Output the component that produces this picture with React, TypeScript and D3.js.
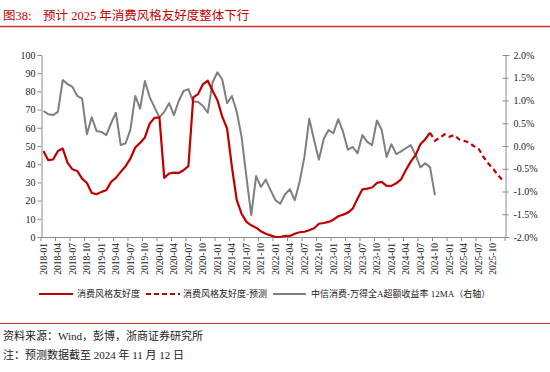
import React, { useRef, useEffect } from "react";
import * as d3 from "d3";

// month categories 2018-01 .. 2025-12
const months: string[] = [];
for (let y = 2018; y <= 2025; y++) {
  for (let m = 1; m <= 12; m++) months.push(`${y}-${String(m).padStart(2, "0")}`);
}

// 消费风格友好度 (left axis), 2018-01 .. 2024-09
const friendly = [
  47.2, 42.2, 42.6, 47.2, 48.6, 40.7, 37.2, 36.3, 32.1, 29.7,
  24.2, 23.5, 24.8, 25.7, 30.3, 32.5, 35.8, 38.9, 43.1, 49.2,
  51.7, 54.7, 62.4, 65.5, 65.7, 32.5, 34.9, 35.4, 35.2, 36.7,
  38.9, 76.7, 78.5, 83.9, 85.9, 80.4, 75.2, 66.1, 59.6, 38.5,
  20.2, 12.8, 8.3, 6.4, 5.1, 3.1, 1.8, 0.9, 0, 0,
  0.7, 0.6, 1.8, 2.6, 2.9, 3.7, 4.8, 7.3, 7.7, 8.3,
  9.5, 11.4, 12.3, 13.4, 15.6, 21.1, 26.2, 26.6, 27.2, 29.7,
  30.3, 28.1, 28.1, 29.5, 31.7, 36.8, 41.4, 45.0, 50.9, 53.7,
  57.3,
];

// 消费风格友好度-预测, 2024-09 .. 2025-12
const forecastStart = 80;
const forecast = [
  57.3, 52.9, 54.6, 56.4, 55.1, 56.0, 53.7, 52.9, 52.0, 50.0,
  48.7, 44.1, 40.5, 37.7, 34.1, 31.3,
];

// 中信消费-万得全A超额收益率 12MA (right axis, %), 2018-01 .. 2024-10
const excess = [
  0.77, 0.70, 0.68, 0.75, 1.45, 1.36, 1.30, 1.10, 1.04, 0.26,
  0.63, 0.33, 0.31, 0.24, 0.50, 0.73, 0.02, 0.06, 0.36, 1.10,
  0.82, 1.43, 1.07, 0.85, 0.63, 0.75, 0.94, 0.68, 0.99, 1.21,
  1.25, 0.97, 0.97, 0.88, 0.73, 1.40, 1.62, 1.46, 0.94, 1.10,
  0.75, 0.20, -0.68, -1.52, -0.66, -0.90, -0.74, -0.97, -1.19, -1.27,
  -1.06, -0.95, -1.19, -0.79, -0.24, 0.60, 0.13, -0.30, 0.16, 0.35,
  0.28, 0.59, 0.31, -0.08, -0.02, -0.16, 0.24, 0.09, 0.02, 0.56,
  0.35, -0.24, 0.04, -0.18, -0.12, -0.05, 0.02, -0.20, -0.47, -0.38,
  -0.47, -1.08,
];

const leftTicks = [0, 10, 20, 30, 40, 50, 60, 70, 80, 90, 100];
const rightTicks = [-2, -1.5, -1, -0.5, 0, 0.5, 1, 1.5, 2];

const RED = "#c00000";
const GRAY = "#7f7f7f";
const AXIS = "#8c8c8c";
const CJK = "'Liberation Serif', 'Noto Sans CJK SC', serif";

export default function App() {
  const width = 550;
  const height = 372;
  const left = 41;
  const right = 505;
  const top = 55;
  const bottom = 237;

  const xAxisRef = useRef<SVGGElement>(null);
  const yLeftRef = useRef<SVGGElement>(null);
  const yRightRef = useRef<SVGGElement>(null);

  const x = d3.scaleBand<string>().domain(months).range([left, right]).padding(0);
  const cx = (i: number) => (x(months[i]) as number) + x.bandwidth() / 2;
  const yL = d3.scaleLinear().domain([0, 100]).range([bottom, top]);
  const yR = d3.scaleLinear().domain([-2, 2]).range([bottom, top]);

  const lineL = d3
    .line<number>()
    .x((_, i) => cx(i))
    .y((d) => yL(d));
  const lineF = d3
    .line<number>()
    .x((_, i) => cx(i + forecastStart))
    .y((d) => yL(d));
  const lineR = d3
    .line<number>()
    .x((_, i) => cx(i))
    .y((d) => yR(d));

  useEffect(() => {
    // x axis: ticks on every quarter boundary, labels on quarter months
    const g = d3.select(xAxisRef.current);
    g.selectAll("*").remove();
    g.append("line")
      .attr("x1", left).attr("x2", right)
      .attr("y1", bottom + 0.5).attr("y2", bottom + 0.5)
      .attr("stroke", AXIS);
    const qIdx = d3.range(0, months.length + 1, 3);
    g.selectAll("line.tk")
      .data(qIdx)
      .join("line")
      .attr("class", "tk")
      .attr("x1", (i) => left + i * x.bandwidth())
      .attr("x2", (i) => left + i * x.bandwidth())
      .attr("y1", bottom)
      .attr("y2", bottom + 4)
      .attr("stroke", AXIS);
    g.selectAll("text")
      .data(qIdx.filter((i) => i < months.length))
      .join("text")
      .attr("transform", (i) => `translate(${cx(i)},${bottom + 6}) rotate(-90)`)
      .attr("text-anchor", "end")
      .attr("dy", "0.35em")
      .attr("font-size", 9.5)
      .attr("font-family", "'Liberation Serif', serif")
      .attr("fill", "#222")
      .text((i) => months[i]);

    const gl = d3.select(yLeftRef.current);
    gl.call(
      d3.axisLeft(yL).tickValues(leftTicks).tickSize(4).tickFormat(d3.format("d")) as any
    );
    gl.select(".domain").attr("stroke", AXIS);
    gl.selectAll(".tick line").attr("stroke", AXIS);
    gl.selectAll(".tick text")
      .attr("font-size", 10)
      .attr("font-family", "'Liberation Serif', serif")
      .attr("fill", "#222")
      .attr("x", -6);

    const gr = d3.select(yRightRef.current);
    gr.call(
      d3.axisRight(yR).tickValues(rightTicks).tickSize(4).tickFormat((d) => `${(+d).toFixed(1)}%`) as any
    );
    gr.select(".domain").attr("stroke", AXIS);
    gr.selectAll(".tick line").attr("stroke", AXIS).attr("x1", -3).attr("x2", 3);
    gr.selectAll(".tick text")
      .attr("font-size", 10)
      .attr("font-family", "'Liberation Serif', serif")
      .attr("fill", "#222")
      .attr("x", 8);
  }, []);

  return (
    <svg
      width={width}
      height={height}
      style={{ position: "absolute", left: 0, top: 0, background: "#fff" }}
    >
      <text x={3} y={20} fontSize={12.5} fill={RED} fontFamily={CJK}>
        图38:
      </text>
      <text x={43} y={20} fontSize={12.5} fill={RED} fontFamily={CJK}>
        预计 2025 年消费风格友好度整体下行
      </text>
      <line x1={0} x2={550} y1={26.5} y2={26.5} stroke="#c9302c" strokeWidth={1.5} />

      <g ref={yLeftRef} transform={`translate(${left + 0.5},0)`} />
      <g ref={yRightRef} transform={`translate(${right + 0.5},0)`} />
      <g ref={xAxisRef} />

      <path d={lineR(excess) || ""} fill="none" stroke={GRAY} strokeWidth={2} strokeLinejoin="round" />
      <path d={lineL(friendly) || ""} fill="none" stroke={RED} strokeWidth={2.2} strokeLinejoin="round" />
      <path
        d={lineF(forecast) || ""}
        fill="none"
        stroke={RED}
        strokeWidth={2.2}
        strokeDasharray="5,3.5"
      />

      {/* legend */}
      <g fontSize={9} fontFamily={CJK} fill="#222">
        <line x1={39} x2={73} y1={294} y2={294} stroke={RED} strokeWidth={2.2} />
        <text x={77} y={297}>消费风格友好度</text>
        <line x1={146} x2={180} y1={294} y2={294} stroke={RED} strokeWidth={2.2} strokeDasharray="5,3" />
        <text x={183} y={297}>消费风格友好度-预测</text>
        <line x1={273} x2={306} y1={294} y2={294} stroke={GRAY} strokeWidth={2.2} />
        <text x={311} y={297}>中信消费-万得全A超额收益率 12MA（右轴）</text>
      </g>

      <line x1={0} x2={550} y1={323.5} y2={323.5} stroke="#c9302c" strokeWidth={1.2} />
      <text x={3} y={340} fontSize={11} fontFamily={CJK} fill="#222">
        资料来源：Wind，彭博，浙商证券研究所
      </text>
      <text x={3} y={359} fontSize={11} fontFamily={CJK} fill="#222">
        注：预测数据截至 2024 年 11 月 12 日
      </text>
    </svg>
  );
}
